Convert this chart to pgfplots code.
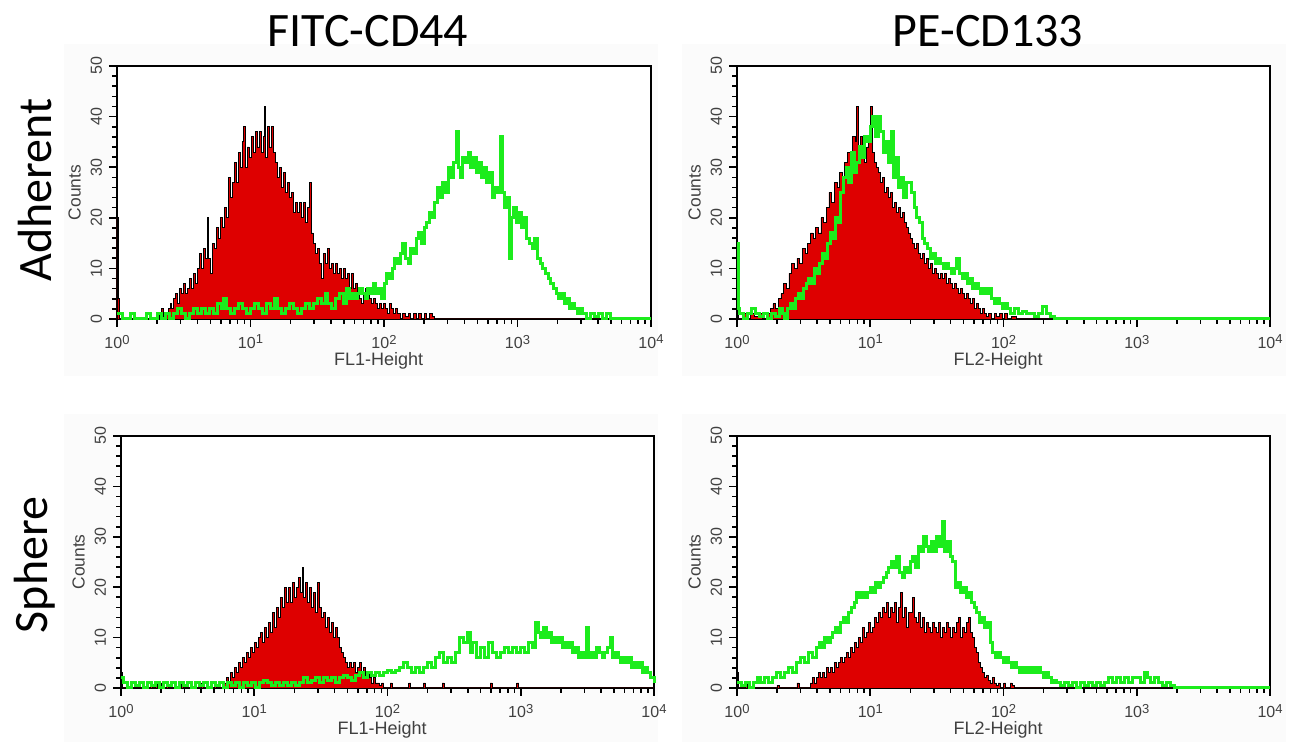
\documentclass[border=0pt]{standalone}
\usepackage{fontspec}
\setmainfont{Liberation Sans}
\newfontfamily\calibri{Carlito}
\usepackage{pgfplots}
\pgfplotsset{compat=1.18}

\definecolor{fcred}{RGB}{222,0,0}
\definecolor{fcgreen}{RGB}{28,236,28}
\definecolor{panelbg}{RGB}{251,251,251}

\newcommand{\dec}[1]{10\raisebox{0.55ex}{\fontsize{6.5}{6.5}\selectfont #1}}

\pgfplotsset{
  fcs/.style={
    scale only axis,
    width=267pt, height=126.5pt,
    xmin=0, xmax=4, ymin=0, ymax=50,
    axis background/.style={fill=white},
    axis line style={line width=1pt},
    xtick={0,1,2,3,4},
    xticklabels={\dec{0},\dec{1},\dec{2},\dec{3},\dec{4}},
    minor xtick={0.301,0.477,0.602,0.699,0.778,0.845,0.903,0.954,
                 1.301,1.477,1.602,1.699,1.778,1.845,1.903,1.954,
                 2.301,2.477,2.602,2.699,2.778,2.845,2.903,2.954,
                 3.301,3.477,3.602,3.699,3.778,3.845,3.903,3.954},
    ytick={0,10,20,30,40,50},
    yticklabels={0,10,20,30,40,50},
    minor y tick num=4,
    tick align=outside,
    xtick pos=left, ytick pos=left,
    major tick length=4pt, minor tick length=2.5pt,
    every tick/.style={black, line width=0.8pt},
    tick label style={font=\fontsize{8}{9}\selectfont, text=black!75},
    yticklabel style={rotate=90, anchor=south},
    xticklabel style={yshift=-0.5pt},
    every axis y label/.style={at={(axis description cs:-0.0795,0.5)}, rotate=90, anchor=center,
      font=\fontsize{8.7}{10}\selectfont, text=black!75},
    every axis x label/.style={at={(axis description cs:0.49,-0.165)}, anchor=center,
      font=\fontsize{9}{10}\selectfont, text=black!75},
    ylabel={Counts},
    clip=false,
  },
  iso/.style={const plot, fill=fcred, draw=black, line width=0.45pt},
  mab/.style={const plot, draw=fcgreen, line width=1.5pt},
}

\begin{document}
\begin{tikzpicture}
\path[use as bounding box] (0,0) rectangle (647pt,371pt);

% faint panel backgrounds
\fill[panelbg] (32pt,183pt) rectangle (329pt,349pt);
\fill[panelbg] (341pt,183pt) rectangle (643pt,349pt);
\fill[panelbg] (32pt,0pt) rectangle (329pt,164pt);
\fill[panelbg] (341pt,0pt) rectangle (643pt,164pt);

% column and row titles
\node[font=\calibri\fontsize{24}{28}\selectfont, anchor=base] at (184pt,347.5pt) {FITC-CD44};
\node[font=\calibri\fontsize{24}{28}\selectfont, anchor=base] at (494pt,347.5pt) {PE-CD133};
\node[font=\calibri\fontsize{24}{28}\selectfont, rotate=90] at (17.5pt,276pt) {Adherent};
\node[font=\calibri\fontsize{24}{28}\selectfont, rotate=90] at (17.5pt,88.5pt) {Sphere};

% ---------- Adherent / CD44 ----------
\begin{axis}[fcs, at={(58.5pt,211.5pt)}, anchor=south west, xlabel={FL1-Height}]
\addplot[iso] coordinates {
(0,20) (0.008,4) (0.016,0) (0.30,1) (0.315,0) (0.33,2) (0.345,0) (0.37,1) (0.385,2)
(0.40,3) (0.41,2) (0.425,4) (0.44,5) (0.455,3) (0.47,6) (0.485,5) (0.50,7) (0.515,5)
(0.53,6) (0.545,8) (0.56,6) (0.575,9) (0.59,7) (0.605,10) (0.62,13) (0.635,10) (0.65,14)
(0.665,12) (0.675,20) (0.685,12) (0.70,9) (0.715,15) (0.73,14) (0.745,18) (0.76,16)
(0.775,20) (0.79,18) (0.805,22) (0.82,20) (0.835,28) (0.85,24) (0.865,27) (0.88,31)
(0.895,27) (0.91,33) (0.925,30) (0.94,35) (0.95,38) (0.96,30) (0.975,34) (0.99,32)
(1.005,36) (1.02,33) (1.035,37) (1.05,34) (1.065,37) (1.08,33) (1.095,36) (1.105,42)
(1.115,32) (1.13,38) (1.145,34) (1.16,38) (1.175,33) (1.19,31) (1.205,28) (1.22,30)
(1.235,26) (1.25,29) (1.265,25) (1.28,27) (1.295,24) (1.31,25) (1.325,21) (1.34,23)
(1.355,21) (1.37,23) (1.385,20) (1.40,23) (1.415,19) (1.43,22) (1.445,27) (1.455,17)
(1.47,15) (1.485,13) (1.50,14) (1.515,11) (1.53,8) (1.545,13) (1.56,11) (1.575,14)
(1.59,10) (1.605,11) (1.62,9) (1.635,11) (1.65,9) (1.665,10) (1.68,8) (1.695,10)
(1.71,8) (1.725,9) (1.74,6) (1.755,9) (1.77,6) (1.785,7) (1.80,5) (1.815,4) (1.83,3)
(1.845,5) (1.86,6) (1.875,5) (1.89,4) (1.905,3) (1.92,4) (1.935,3) (1.95,2) (1.965,3)
(1.98,2) (1.995,3) (2.01,2) (2.025,1) (2.04,3) (2.055,2) (2.07,1) (2.085,2) (2.10,1)
(2.12,0) (2.14,1) (2.16,0.5) (2.18,1) (2.20,0) (2.22,1) (2.24,0) (2.26,1) (2.28,0)
(2.30,1) (2.32,0) (2.34,1) (2.36,0.5) (2.38,0) (4,0)
} \closedcycle;
\addplot[mab] coordinates {
(0,1) (0.04,0) (0.10,1) (0.13,0) (0.22,1) (0.25,0) (0.30,1) (0.33,0) (0.36,1) (0.39,0)
(0.42,1) (0.45,2) (0.48,1) (0.51,0) (0.54,1) (0.57,2) (0.60,1) (0.63,2) (0.66,1) (0.69,2)
(0.72,1) (0.75,3) (0.78,2) (0.80,4) (0.82,2) (0.85,1) (0.88,2) (0.91,3) (0.94,2) (0.97,1)
(1.00,2) (1.03,3) (1.06,2) (1.09,1) (1.12,3) (1.15,2) (1.18,4) (1.20,2) (1.23,1) (1.26,2)
(1.29,3) (1.32,2) (1.35,1) (1.38,2) (1.41,3) (1.44,2) (1.47,3) (1.50,4) (1.53,3) (1.56,5)
(1.58,3) (1.61,2) (1.64,4) (1.67,5) (1.70,3) (1.72,6) (1.74,4) (1.76,5) (1.78,4) (1.80,5)
(1.82,6) (1.84,5) (1.86,4) (1.88,6) (1.90,5) (1.92,7) (1.94,5) (1.96,6) (1.98,4) (2.00,7)
(2.02,9) (2.04,8) (2.06,10) (2.08,12) (2.10,11) (2.12,13) (2.14,15) (2.16,12) (2.18,11)
(2.20,14) (2.22,13) (2.24,16) (2.26,17) (2.28,15) (2.30,18) (2.32,19) (2.34,21) (2.36,20)
(2.38,23) (2.40,26) (2.42,24) (2.44,27) (2.46,25) (2.48,30) (2.50,28) (2.52,31) (2.54,37)
(2.555,30) (2.57,28) (2.59,32) (2.61,31) (2.63,33) (2.65,30) (2.67,32) (2.69,29) (2.71,31)
(2.73,28) (2.75,30) (2.77,27) (2.79,29) (2.81,24) (2.83,26) (2.85,25) (2.87,36) (2.885,25)
(2.90,22) (2.92,24) (2.94,12) (2.955,20) (2.97,22) (2.99,19) (3.01,21) (3.03,18) (3.05,20)
(3.07,16) (3.09,15) (3.11,14) (3.13,16) (3.15,12) (3.17,11) (3.19,10) (3.21,9) (3.23,8)
(3.25,7) (3.27,6) (3.29,5) (3.31,4) (3.33,5) (3.35,3) (3.37,4) (3.39,2) (3.41,3) (3.43,2)
(3.45,1) (3.47,2) (3.49,1) (3.52,0) (3.55,1) (3.58,0.5) (3.61,1) (3.64,0) (3.67,1) (3.70,0)
(4.00,0)
};
\end{axis}

% ---------- Adherent / CD133 ----------
\begin{axis}[fcs, at={(368.5pt,211.5pt)}, anchor=south west, width=266.5pt, xlabel={FL2-Height}]
\addplot[iso] coordinates {
(0,5) (0.008,0) (0.04,1) (0.07,0) (0.10,1) (0.13,0.5) (0.16,1) (0.19,0) (0.22,1) (0.25,2)
(0.27,3) (0.29,2) (0.31,4) (0.33,5) (0.35,7) (0.37,6) (0.39,9) (0.41,11) (0.43,10) (0.45,12)
(0.47,11) (0.49,14) (0.51,13) (0.53,15) (0.55,17) (0.57,16) (0.59,18) (0.61,17) (0.63,20)
(0.65,19) (0.67,22) (0.69,25) (0.71,23) (0.73,27) (0.75,26) (0.77,29) (0.79,28) (0.81,31)
(0.83,33) (0.85,32) (0.87,36) (0.89,35) (0.90,42) (0.915,34) (0.93,36) (0.945,33) (0.96,31)
(0.975,34) (0.99,35) (1.00,42) (1.015,33) (1.03,31) (1.045,30) (1.06,29) (1.075,27) (1.09,28)
(1.105,25) (1.12,26) (1.135,24) (1.15,25) (1.165,22) (1.18,23) (1.195,21) (1.21,22) (1.225,20)
(1.24,21) (1.255,19) (1.27,18) (1.285,17) (1.30,16) (1.315,15) (1.33,14) (1.345,15) (1.36,13)
(1.375,12) (1.39,13) (1.405,11) (1.42,12) (1.435,10) (1.45,11) (1.465,9) (1.48,10) (1.495,9)
(1.51,8) (1.525,9) (1.54,8) (1.555,9) (1.57,7) (1.585,8) (1.60,7) (1.615,6) (1.63,7) (1.645,6)
(1.66,5) (1.675,6) (1.69,5) (1.705,4) (1.72,5) (1.735,4) (1.75,3) (1.765,4) (1.78,2) (1.795,3)
(1.81,2) (1.825,1) (1.84,2) (1.855,1) (1.87,0.5) (1.89,1) (1.91,0) (1.93,1) (1.95,0.5) (1.97,1)
(1.99,0) (2.01,1) (2.03,0) (2.06,0.5) (2.10,0) (4,0)
} \closedcycle;
\addplot[mab] coordinates {
(0,15) (0.008,2) (0.02,1) (0.05,0) (0.08,1) (0.11,2) (0.14,1) (0.17,0.5) (0.20,1) (0.23,0)
(0.26,1) (0.29,0.5) (0.32,2) (0.34,1) (0.36,0) (0.38,2) (0.40,3) (0.42,2) (0.44,4) (0.46,5)
(0.48,4) (0.50,6) (0.52,7) (0.54,8) (0.56,7) (0.58,10) (0.60,9) (0.62,11) (0.64,13) (0.66,12)
(0.68,15) (0.70,17) (0.72,16) (0.74,20) (0.76,19) (0.78,25) (0.80,28) (0.82,30) (0.84,27)
(0.86,33) (0.88,29) (0.90,31) (0.92,34) (0.94,32) (0.96,36) (0.98,35) (1.00,38) (1.02,40)
(1.04,36) (1.06,40) (1.08,37) (1.10,33) (1.12,35) (1.14,31) (1.16,37) (1.175,28) (1.19,32)
(1.21,26) (1.23,28) (1.25,24) (1.27,27) (1.29,27) (1.31,25) (1.33,22) (1.35,20) (1.37,19)
(1.39,16) (1.41,15) (1.43,14) (1.45,12) (1.47,13) (1.49,11) (1.51,12) (1.53,11) (1.55,10)
(1.57,11) (1.59,10) (1.61,9) (1.63,10) (1.65,12) (1.67,9) (1.69,8) (1.71,9) (1.73,7) (1.75,8)
(1.77,6) (1.79,7) (1.81,6) (1.83,5) (1.85,6) (1.87,5) (1.89,6) (1.91,4) (1.93,3) (1.95,4)
(1.97,3) (1.99,2) (2.01,3) (2.03,2) (2.05,1) (2.08,2) (2.11,1) (2.14,1.5) (2.17,1) (2.20,1)
(2.23,0.5) (2.26,1) (2.29,2.5) (2.32,1) (2.35,0.5) (2.38,0) (4,0)
};
\end{axis}

% ---------- Sphere / CD44 ----------
\begin{axis}[fcs, at={(60.5pt,27pt)}, anchor=south west, width=266.5pt, height=126pt, xlabel={FL1-Height}]
\addplot[iso] coordinates {
(0,3) (0.008,0) (0.22,1) (0.235,0) (0.26,1) (0.275,0) (0.30,1) (0.315,0) (0.34,1) (0.355,0)
(0.45,1) (0.465,0) (0.55,1) (0.565,0) (0.60,1) (0.615,0) (0.70,1) (0.715,0)
(0.78,1) (0.795,2) (0.81,1) (0.825,3) (0.84,2) (0.855,4) (0.87,3) (0.885,5) (0.90,4)
(0.915,6) (0.93,5) (0.945,7) (0.96,6) (0.975,8) (0.99,7) (1.005,9) (1.02,8) (1.035,10)
(1.05,11) (1.065,9) (1.08,12) (1.095,10) (1.11,13) (1.125,11) (1.14,15) (1.155,12) (1.17,16)
(1.185,14) (1.20,18) (1.215,16) (1.23,20) (1.245,17) (1.26,20) (1.275,17) (1.29,21) (1.305,18)
(1.32,20) (1.335,22) (1.35,19) (1.36,24) (1.37,18) (1.385,21) (1.40,17) (1.415,20) (1.43,16)
(1.445,19) (1.46,15) (1.475,21) (1.49,16) (1.505,14) (1.52,15) (1.535,12) (1.55,14) (1.565,11)
(1.58,13) (1.595,10) (1.61,12) (1.625,10) (1.64,8) (1.655,7) (1.67,6) (1.685,5) (1.70,4)
(1.715,5) (1.73,4) (1.745,5) (1.76,3) (1.775,4) (1.79,5) (1.805,3) (1.82,4) (1.835,2) (1.85,3)
(1.865,2) (1.88,1) (1.895,2) (1.91,1) (1.925,1) (1.94,0.5) (1.955,1) (1.97,0) (2.02,1) (2.035,0)
(2.16,1) (2.175,0) (2.27,1) (2.285,0) (2.41,1) (2.425,0) (2.77,1) (2.785,0) (2.97,1) (2.985,0)
(4,0)
} \closedcycle;
\addplot[mab] coordinates {
(0,2) (0.02,1) (0.05,0) (0.08,1) (0.11,0.5) (0.14,1) (0.17,0) (0.20,1) (0.23,0.5) (0.26,1)
(0.29,0) (0.32,1) (0.35,0.5) (0.38,1) (0.41,0) (0.44,1) (0.47,0.5) (0.50,1) (0.53,0) (0.56,1)
(0.59,0.5) (0.62,1) (0.65,0) (0.68,1) (0.71,0.5) (0.74,1) (0.77,0) (0.80,1) (0.83,0.5) (0.86,1)
(0.89,0) (0.92,1) (0.95,0.5) (0.98,1) (1.01,0) (1.04,1) (1.07,1.5) (1.10,1) (1.13,0.5) (1.16,1)
(1.19,0.5) (1.22,1) (1.25,0.5) (1.28,1) (1.31,0.5) (1.34,1) (1.37,2) (1.40,1) (1.43,1.5) (1.46,2)
(1.49,1) (1.52,2) (1.55,1.5) (1.58,2) (1.61,1) (1.64,2) (1.67,2.5) (1.70,2) (1.73,1.5) (1.76,2.5)
(1.79,3) (1.82,2) (1.85,3) (1.88,2.5) (1.91,3) (1.94,2.5) (1.97,3) (2.00,3.5) (2.03,3) (2.06,3.5)
(2.09,4) (2.12,5) (2.15,4) (2.18,3) (2.21,4) (2.24,3) (2.27,4) (2.30,5) (2.33,4) (2.36,6)
(2.39,7) (2.42,5) (2.45,6) (2.48,5) (2.51,7) (2.54,10) (2.57,9) (2.60,11) (2.62,7) (2.64,9)
(2.67,6) (2.70,8) (2.73,6) (2.76,9) (2.79,7) (2.82,6) (2.85,7) (2.88,8) (2.91,7) (2.94,8)
(2.97,7) (3.00,8) (3.03,7) (3.06,9) (3.09,8) (3.11,13) (3.13,11) (3.15,10) (3.17,12) (3.19,10)
(3.21,11) (3.23,9) (3.25,10) (3.27,9) (3.29,10) (3.31,8) (3.33,9) (3.35,8) (3.37,9) (3.39,7)
(3.41,8) (3.43,6) (3.45,7) (3.47,6) (3.49,12) (3.51,6) (3.53,7) (3.55,6) (3.57,8) (3.59,7)
(3.61,6) (3.63,7) (3.65,8) (3.67,10) (3.69,6) (3.71,7) (3.73,6) (3.75,5) (3.77,6) (3.79,5)
(3.81,6) (3.83,4) (3.85,5) (3.87,4) (3.89,5) (3.91,3) (3.93,4) (3.95,3) (3.97,2) (4.00,1)
};
\end{axis}

% ---------- Sphere / CD133 ----------
\begin{axis}[fcs, at={(368.5pt,27pt)}, anchor=south west, width=266.5pt, height=126pt, xlabel={FL2-Height}]
\addplot[iso] coordinates {
(0,9) (0.006,3) (0.012,0) (0.06,1) (0.075,0) (0.30,0.5) (0.32,0) (0.45,1) (0.465,0)
(0.55,1) (0.565,2) (0.58,1) (0.595,2) (0.61,3) (0.625,2) (0.64,3) (0.655,2) (0.67,4) (0.685,3)
(0.70,4) (0.715,3) (0.73,5) (0.745,4) (0.76,5) (0.775,6) (0.79,5) (0.805,6) (0.82,7) (0.835,6)
(0.85,8) (0.865,7) (0.88,9) (0.895,8) (0.91,10) (0.925,9) (0.94,12) (0.955,10) (0.97,11)
(0.985,13) (1.00,11) (1.015,12) (1.03,14) (1.045,13) (1.06,15) (1.075,14) (1.09,16) (1.105,15)
(1.12,17) (1.135,14) (1.15,16) (1.165,15) (1.18,17) (1.195,13) (1.21,16) (1.225,19) (1.24,14)
(1.255,16) (1.27,12) (1.285,15) (1.30,15) (1.315,18) (1.33,14) (1.345,13) (1.36,15) (1.375,12)
(1.39,14) (1.405,11) (1.42,13) (1.435,12) (1.45,11) (1.465,13) (1.48,12) (1.495,11) (1.51,13)
(1.525,10) (1.54,12) (1.555,11) (1.57,13) (1.585,12) (1.60,10) (1.615,12) (1.63,11) (1.645,13)
(1.66,14) (1.675,10) (1.69,12) (1.705,11) (1.72,13) (1.735,14) (1.75,11) (1.765,10) (1.78,8)
(1.795,7) (1.81,5) (1.825,4) (1.84,3) (1.855,2) (1.87,2.5) (1.885,1.5) (1.90,1) (1.915,2)
(1.93,1) (1.945,0.5) (1.96,1) (1.975,0) (2.00,1) (2.015,0) (2.05,1) (2.065,0.5) (2.08,0) (4,0)
} \closedcycle;
\addplot[mab] coordinates {
(0,1) (0.03,0.5) (0.06,1) (0.09,0) (0.12,1) (0.15,2) (0.18,1) (0.21,2) (0.24,1) (0.27,2)
(0.30,3) (0.33,2) (0.36,3) (0.39,4) (0.42,3) (0.45,5) (0.48,6) (0.51,5) (0.54,7) (0.57,6)
(0.60,8) (0.62,9) (0.64,8) (0.66,10) (0.68,9) (0.70,10) (0.72,11) (0.74,12) (0.76,11) (0.78,13)
(0.80,14) (0.82,13) (0.84,15) (0.86,16) (0.88,17) (0.90,19) (0.92,18) (0.94,19) (0.96,18)
(0.98,19) (1.00,20) (1.02,19) (1.04,21) (1.06,20) (1.08,21) (1.10,22) (1.12,23) (1.14,24)
(1.16,25) (1.18,24) (1.20,26) (1.22,23) (1.24,22) (1.26,24) (1.28,23) (1.30,25) (1.32,26)
(1.34,24) (1.36,28) (1.38,27) (1.40,30) (1.42,28) (1.44,27) (1.46,29) (1.48,27) (1.50,30)
(1.52,28) (1.54,33) (1.56,27) (1.58,29) (1.60,26) (1.62,25) (1.64,20) (1.66,21) (1.68,19)
(1.70,20) (1.72,18) (1.74,19) (1.76,17) (1.78,16) (1.80,15) (1.82,13) (1.84,14) (1.86,12)
(1.88,13) (1.90,9) (1.92,7) (1.94,6) (1.96,7) (1.98,6) (2.00,5) (2.02,6) (2.04,5) (2.06,4)
(2.08,5) (2.10,4) (2.12,3) (2.14,4) (2.16,3) (2.18,4) (2.20,3) (2.22,4) (2.24,3) (2.26,4)
(2.28,3) (2.30,2) (2.32,3) (2.34,2) (2.36,1) (2.38,1.5) (2.40,1) (2.43,0.5) (2.46,1) (2.49,0.5)
(2.52,1) (2.55,0) (2.58,1) (2.61,0.5) (2.64,1) (2.67,0.5) (2.70,1) (2.73,0.5) (2.76,1) (2.79,2)
(2.82,1) (2.85,2) (2.88,1) (2.91,2) (2.94,1) (2.97,2) (3.00,2) (3.03,1) (3.06,3) (3.08,2)
(3.10,1) (3.13,2) (3.16,1) (3.19,0.5) (3.22,1) (3.25,0.5) (3.28,0) (4.00,0)
};
\end{axis}
\end{tikzpicture}
\end{document}
